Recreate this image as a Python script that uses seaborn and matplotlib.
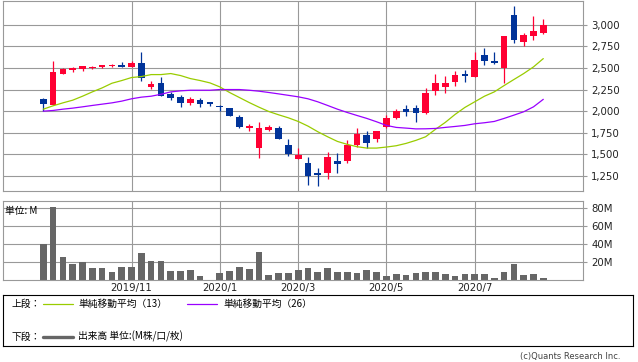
import matplotlib
matplotlib.use("Agg")
import matplotlib.pyplot as plt
from matplotlib.ticker import FuncFormatter
import seaborn as sns
import pandas as pd
import numpy as np

sns.set_style("white")
plt.rcParams["font.family"] = ["DejaVu Sans"]
JP = ["Noto Sans CJK JP", "DejaVu Sans"]

# weekly candles (yen), starting week of 2019-09-02
opens = [2139, 2073, 2431, 2473, 2485, 2500, 2508, 2519, 2531, 2508,
         2554, 2277, 2323, 2196, 2162, 2096, 2131, 2104, 2058, 2035,
         1931, 1804, 1577, 1785, 1804, 1608, 1450, 1400, 1285, 1289,
         1424, 1427, 1608, 1723, 1681, 1820, 1923, 2023, 2035, 1977,
         2235, 2277, 2339, 2427, 2392, 2646, 2577, 2500, 3108, 2800,
         2869, 2908]
highs = [2150, 2577, 2504, 2516, 2523, 2523, 2531, 2542, 2569, 2577,
         2681, 2346, 2392, 2227, 2185, 2162, 2154, 2108, 2073, 2038,
         1954, 1850, 1873, 1839, 1827, 1677, 1577, 1470, 1343, 1527,
         1512, 1666, 1804, 1770, 1770, 1954, 2023, 2070, 2070, 2266,
         2427, 2404, 2462, 2473, 2681, 2727, 2681, 2865, 3211, 2900,
         3096, 3062]
lows = [2000, 2066, 2431, 2454, 2462, 2485, 2496, 2512, 2508, 2508,
        2350, 2262, 2170, 2127, 2046, 2070, 2046, 2058, 2000, 1943,
        1808, 1773, 1462, 1773, 1681, 1485, 1443, 1150, 1139, 1220,
        1289, 1404, 1589, 1577, 1647, 1808, 1904, 1946, 1877, 1966,
        2185, 2208, 2289, 2339, 2392, 2531, 2542, 2323, 2792, 2754,
        2819, 2896]
closes = [2085, 2450, 2485, 2500, 2519, 2508, 2531, 2531, 2508, 2554,
          2385, 2312, 2177, 2154, 2096, 2139, 2085, 2081, 2050, 1946,
          1816, 1831, 1804, 1820, 1681, 1508, 1497, 1254, 1266, 1470,
          1393, 1608, 1735, 1635, 1770, 1920, 2000, 1993, 1981, 2208,
          2323, 2323, 2416, 2404, 2589, 2581, 2554, 2865, 2819, 2877,
          2923, 2992]

# simple moving averages as drawn on the chart
ma13 = [2023, 2062, 2096, 2127, 2173, 2223, 2269, 2323, 2354, 2389,
        2400, 2423, 2423, 2435, 2412, 2377, 2354, 2327, 2281, 2216,
        2158, 2100, 2046, 1996, 1958, 1923, 1881, 1827, 1762, 1704,
        1650, 1616, 1589, 1573, 1573, 1585, 1600, 1627, 1662, 1704,
        1790, 1870, 1962, 2043, 2108, 2173, 2223, 2296, 2366, 2435,
        2512, 2608]
ma26 = [2000, 2008, 2023, 2035, 2050, 2066, 2081, 2096, 2116, 2143,
        2162, 2173, 2195, 2223, 2235, 2242, 2242, 2242, 2250, 2250,
        2250, 2242, 2231, 2216, 2200, 2183, 2166, 2143, 2108, 2066,
        2023, 1985, 1950, 1916, 1877, 1835, 1812, 1804, 1795, 1796,
        1800, 1812, 1823, 1835, 1854, 1866, 1881, 1916, 1954, 1993,
        2050, 2137]

# volume, millions of shares
volume = [40.4, 81.5, 25.9, 18.1, 20.4, 14.1, 14.1, 9.3, 15.2, 15.2,
          30.4, 21.5, 21.5, 10.4, 10.4, 11.5, 4.8, 0.5, 8.1, 10.4,
          14.8, 12.6, 31.5, 5.9, 8.1, 8.1, 11.5, 13.7, 9.3, 13.7,
          9.3, 9.3, 8.1, 11.5, 9.3, 4.8, 7.0, 5.9, 8.1, 9.3,
          9.3, 7.0, 5.2, 7.0, 7.0, 7.0, 2.6, 9.3, 18.1, 5.9,
          7.0, 2.6]

tick_labels = ["2019/11", "2020/1", "2020/3", "2020/5", "2020/7"]
price_ticks = [1250, 1500, 1750, 2000, 2250, 2500, 2750, 3000]
volume_ticks = [20, 40, 60, 80]

weeks = pd.date_range("2019-09-02", periods=len(closes), freq="7D")
months = [f"{d.year}/{d.month}" for d in weeks]
tick_pos = [months.index(lab) for lab in tick_labels]

df = pd.DataFrame({"x": np.arange(len(closes)), "open": opens, "high": highs,
                   "low": lows, "close": closes, "ma13": ma13, "ma26": ma26,
                   "volume": volume})

UP, DOWN = "#ff0033", "#003399"
GRID = "#999999"
TXT = "#222222"

W, H = 638, 362
fig = plt.figure(figsize=(W / 100, H / 100), dpi=100)


def px_axes(l, t, r, b):
    return fig.add_axes([l / W, 1 - b / H, (r - l) / W, (b - t) / H])


ax_p = px_axes(3, 0.5, 583, 190.7)
ax_v = px_axes(3, 201, 583, 280.3)
xlim = (-4.11, 55.05)

for ax in (ax_p, ax_v):
    for s in ax.spines.values():
        s.set_color(GRID)
        s.set_linewidth(0.8)
    ax.set_xlim(*xlim)
    ax.set_xticks(tick_pos)
    ax.grid(True, color=GRID, linewidth=0.8)
    ax.set_axisbelow(True)
    ax.yaxis.tick_right()
    ax.tick_params(axis="y", length=3, width=0.8, color=GRID, pad=3,
                   labelsize=7.3, labelcolor=TXT)
    ax.tick_params(axis="x", length=0)

# candlesticks
colors = np.where(df["close"] >= df["open"], UP, DOWN)
ax_p.vlines(df["x"], df["low"], df["high"], colors=colors, linewidth=0.9, zorder=2)
ax_p.bar(df["x"], (df["close"] - df["open"]).abs().clip(lower=6),
         bottom=df[["open", "close"]].min(axis=1), width=0.68,
         color=colors, linewidth=0, zorder=2)
sns.lineplot(data=df, x="x", y="ma13", color="#99cc00", linewidth=0.9, ax=ax_p, zorder=3)
sns.lineplot(data=df, x="x", y="ma26", color="#9900ff", linewidth=0.9, ax=ax_p, zorder=3)
ax_p.set_ylim(1080, 3280)
ax_p.set_yticks(price_ticks)
ax_p.yaxis.set_major_formatter(FuncFormatter(lambda v, p: f"{v:,.0f}"))
ax_p.set_xticklabels([])
ax_p.set_xlabel("")
ax_p.set_ylabel("")

# volume
sns.barplot(data=df, x="x", y="volume", native_scale=True, color="#666666",
            saturation=1, width=0.68, linewidth=0, ax=ax_v, zorder=2)
ax_v.set_xlim(*xlim)
ax_v.set_xticks(tick_pos)
ax_v.set_xticklabels(tick_labels, fontsize=7.3, color=TXT)
ax_v.tick_params(axis="x", pad=2)
ax_v.set_ylim(0, 88)
ax_v.set_yticks(volume_ticks)
ax_v.set_yticklabels([f"{v}M" for v in volume_ticks])
ax_v.set_xlabel("")
ax_v.set_ylabel("")
ax_v.text(0.004, 0.874, "単位: M", transform=ax_v.transAxes, ha="left",
          va="center", fontsize=7, family=JP, color="black")

# legend box in pixel coordinates
ax_l = px_axes(3, 295.3, 633, 346)
ax_l.set_xlim(3, 633)
ax_l.set_ylim(346, 295.3)
ax_l.set_xticks([])
ax_l.set_yticks([])
for s in ax_l.spines.values():
    s.set_color("black")
    s.set_linewidth(0.8)
r1, r2 = 303.5, 336.5
ax_l.text(12, r1, "上段：", fontsize=7, family=JP, va="center", color="black")
ax_l.plot([43, 73], [r1, r1], color="#99cc00", linewidth=0.9)
ax_l.text(78, r1, "単純移動平均（13）", fontsize=7, family=JP, va="center", color="black")
ax_l.plot([187, 217], [r1, r1], color="#9900ff", linewidth=0.9)
ax_l.text(223, r1, "単純移動平均（26）", fontsize=7, family=JP, va="center", color="black")
ax_l.text(12, r2, "下段：", fontsize=7, family=JP, va="center", color="black")
ax_l.plot([43, 73], [r2, r2], color="#666666", linewidth=2.4)
ax_l.text(78, r2, "出来高 単位:(M株/口/枚)", fontsize=7, family=JP, va="center", color="black")

fig.text(620 / W, 1 - 356 / H, "(c)Quants Research Inc.", ha="right", va="center",
         fontsize=6, color="#444444")

fig.savefig("out.png", dpi=100, facecolor="white")
